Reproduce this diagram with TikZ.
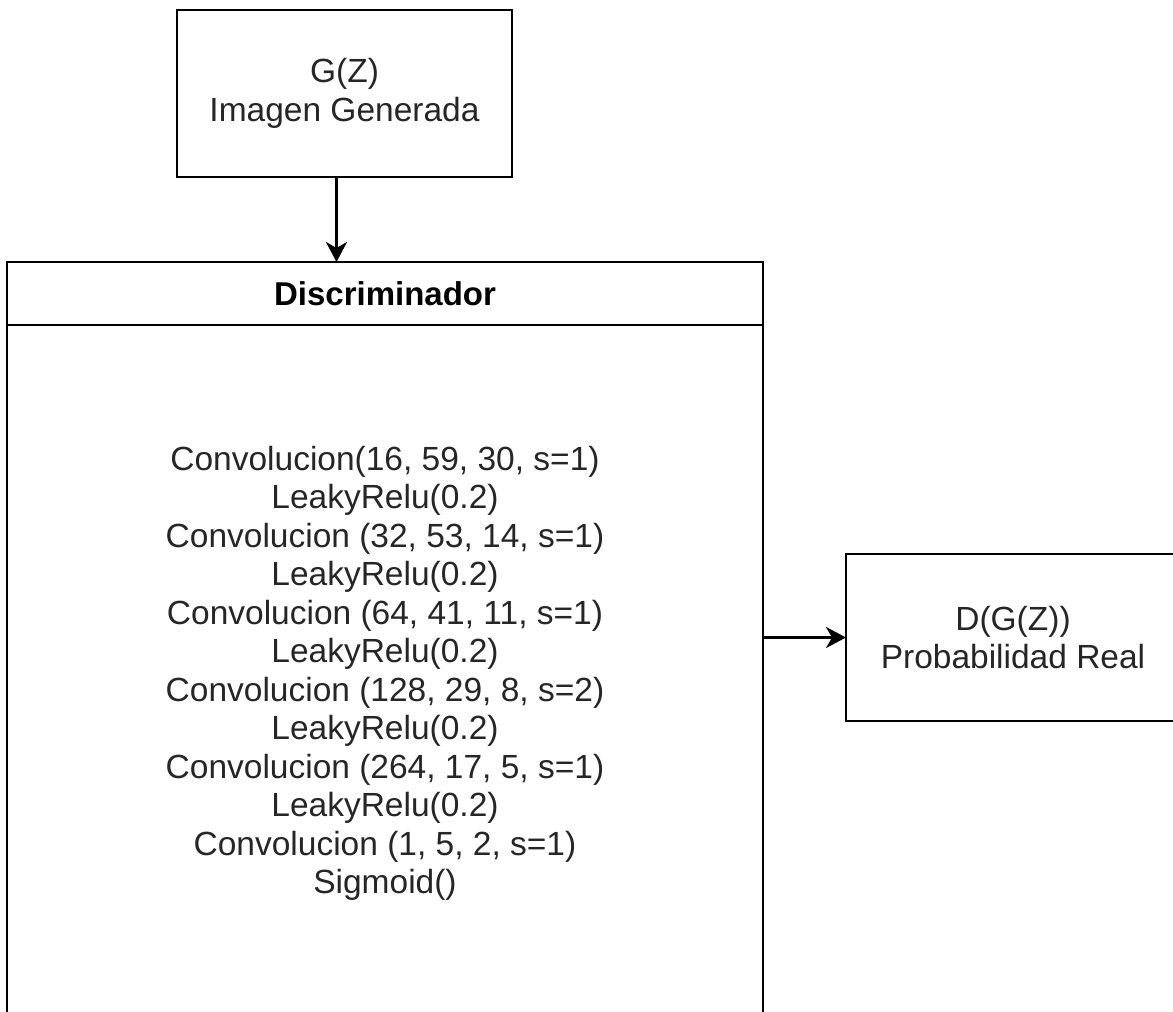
\documentclass[tikz,border=0pt]{standalone}
\usepackage{fontspec}
\setmainfont{Liberation Sans}
\usetikzlibrary{arrows.meta}
\tikzset{
  box/.style={draw=black, line width=2.6pt, rectangle, inner sep=0pt, outer sep=0pt,
    align=center, text=black!85, font=\fontsize{33.5}{38.5}\selectfont},
  headbox/.style={box, text=black, font=\bfseries\fontsize{33}{38}\selectfont},
  arr/.style={draw=black, line width=2.6pt,
    -{Stealth[length=20pt, width=21pt, inset=6pt]}},
}
\begin{document}
\begin{tikzpicture}[x=1pt, y=-1pt]
  \useasboundingbox (0,0) rectangle (1173,1012);
  \clip (0,0) rectangle (1173,1012);
  \fill[white] (0,0) rectangle (1173,1012);

  % generator output
  \node[box, minimum width=335pt, minimum height=167pt] (gen) at (344.5,93.5)
    {G(Z)\\Imagen Generada};

  % discriminator: header and body
  \node[headbox, minimum width=756pt, minimum height=63pt] (head) at (385,293.5)
    {Discriminador};
  \node[box, minimum width=756pt, minimum height=697pt, anchor=north] (body) at (head.south)
    {Convolucion(16, 59, 30, s=1)\\
     LeakyRelu(0.2)\\
     Convolucion (32, 53, 14, s=1)\\
     LeakyRelu(0.2)\\
     Convolucion (64, 41, 11, s=1)\\
     LeakyRelu(0.2)\\
     Convolucion (128, 29, 8, s=2)\\
     LeakyRelu(0.2)\\
     Convolucion (264, 17, 5, s=1)\\
     LeakyRelu(0.2)\\
     Convolucion (1, 5, 2, s=1)\\
     Sigmoid()};

  % discriminator output
  \node[box, minimum width=334pt, minimum height=167pt] (prob) at (1013,637.5)
    {D(G(Z))\\Probabilidad Real};

  % connectors
  \coordinate (genout) at ([xshift=-8pt]gen.south);
  \draw[arr] (genout) -- (genout |- head.north);
  \draw[arr] (prob.west -| body.east) -- (prob.west);
\end{tikzpicture}
\end{document}
